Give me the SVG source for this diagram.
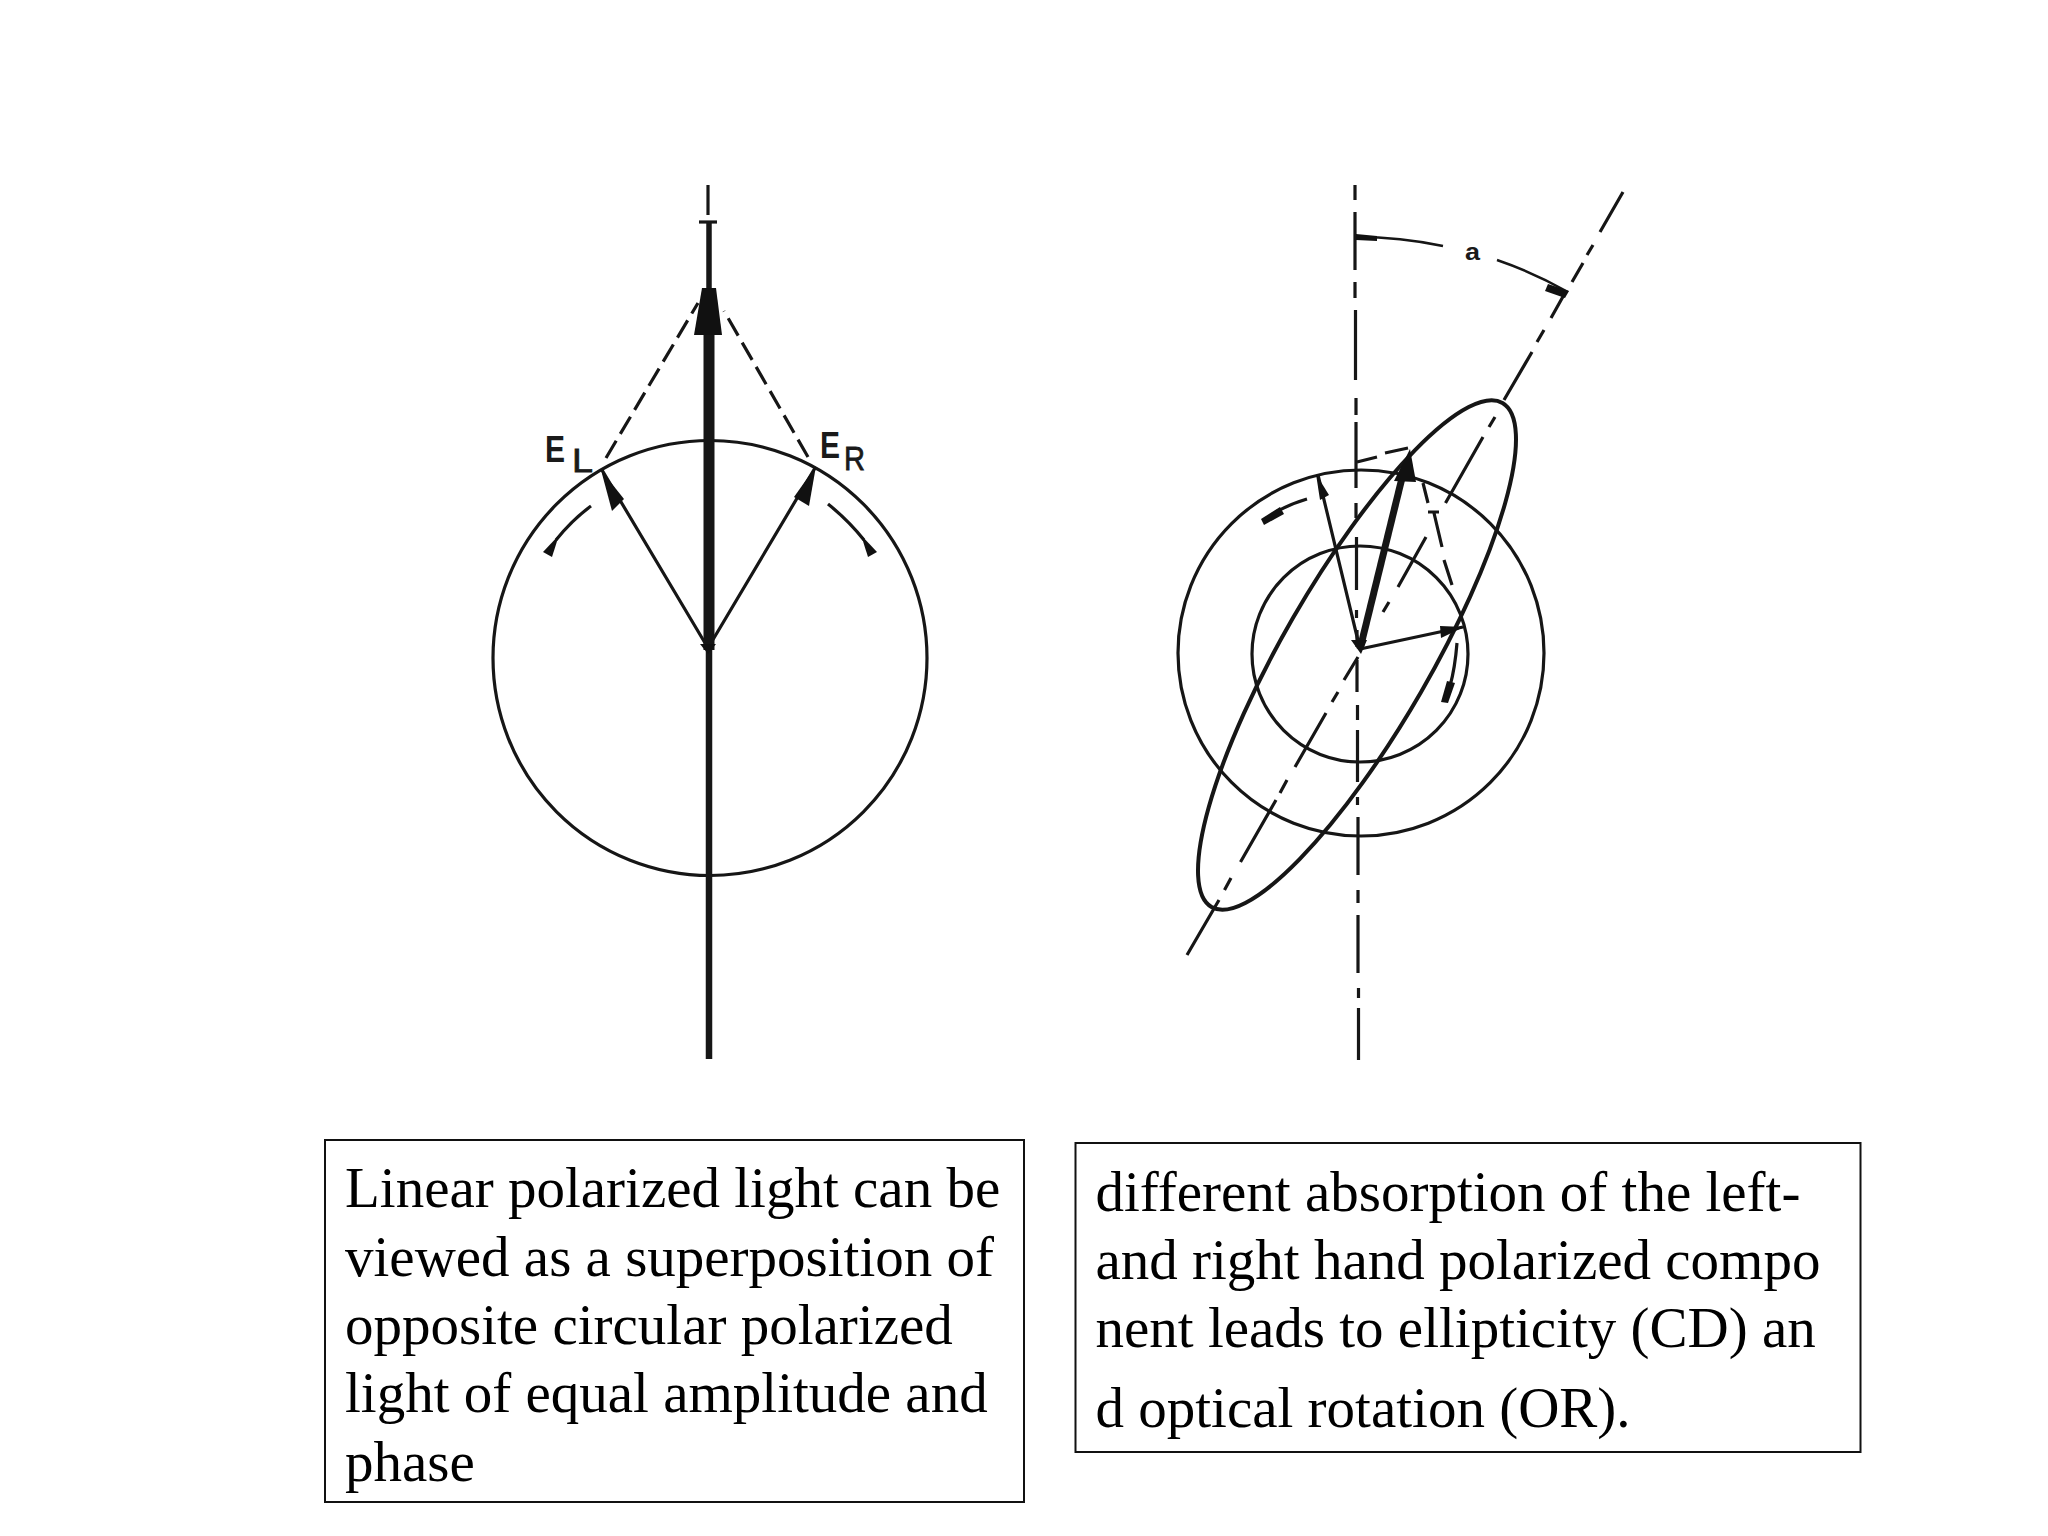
<svg xmlns="http://www.w3.org/2000/svg" width="2048" height="1536" viewBox="0 0 2048 1536">
<style>
.l{fill:none;stroke:#161616;stroke-linecap:butt}
.t2{stroke-width:2.500}.t3{stroke-width:3.200}.tk{stroke-width:6.500}
.h{fill:#111;stroke:none}
.lab{font-family:"Liberation Sans",Arial,sans-serif;fill:#1a1a1a}
.sub{stroke:#1a1a1a;stroke-width:.8}
.cap{font-family:"Liberation Serif","Times New Roman",serif;font-size:57px;fill:#000}
.box{fill:#fff;stroke:#111;stroke-width:2}
</style>
<rect width="2048" height="1536" fill="#fff"/>
<g id="left-figure">
<ellipse class="l t3" cx="710" cy="658" rx="217" ry="217.500"/>
<path class="l t3" d="M708 648L602 470M708 648L815 468"/>
<path class="l t3" stroke-dasharray="20 8" d="M606 458L698 303M808 457L724 311"/>
<path class="l t3" d="M708 185V215"/>
<path class="l t3" d="M699 222H717"/>
<path class="l" stroke-width="5.500" d="M709 223V290"/>
<path class="l" stroke-width="11" d="M709 330V650"/>
<path class="l" stroke-width="6.500" d="M709 650V1059"/>
<polygon class="h" points="702,288 716,288 722,335 694,335"/>
<polygon class="h" points="601,470 624,499 612,511"/>
<polygon class="h" points="816,466 809,506 794,497"/>
<polygon class="h" points="708,654 700,644 716,644"/>
<path class="l t3" d="M591 506Q572 520 556 540M828 504Q848 520 864 540"/>
<polygon class="h" points="559,535 552,557 543,552"/>
<polygon class="h" points="861,535 868,557 877,552"/>
<text class="lab" x="545" y="462" font-size="37" font-weight="700" textLength="20" lengthAdjust="spacingAndGlyphs">E</text>
<text class="lab sub" x="572" y="472" font-size="34" textLength="21" lengthAdjust="spacingAndGlyphs">L</text>
<text class="lab" x="820" y="458" font-size="36" font-weight="700" textLength="20" lengthAdjust="spacingAndGlyphs">E</text>
<text class="lab sub" x="844" y="470" font-size="34" textLength="21" lengthAdjust="spacingAndGlyphs">R</text>
</g>
<g id="right-figure">
<ellipse class="l t3" cx="1361" cy="653" rx="183" ry="183"/>
<ellipse class="l t3" cx="1360" cy="654" rx="108" ry="108"/>
<ellipse class="l" stroke-width="4" cx="1357" cy="655" rx="291" ry="74" transform="rotate(-60 1357 655)"/>
<path class="l t3" d="M1355 185V200M1355 212V270M1355 282V298M1355.500 310V380M1356 398V415M1356 422V488M1356 503V518M1356.500 537V590M1356.500 610V618M1357 630V647M1357 660V692M1357.500 705V720M1357.500 730V782M1357.500 797V805M1358 817V875M1358 890V903M1358 915V973M1358.500 988V998M1358.500 1008V1060"/>
<path class="l t3" d="M1623 192L1600 232M1593 245L1587 255M1583 263L1572 282M1565 293L1551 318M1544 330L1537 342M1532 352L1504 400M1495 417L1489 427M1483 437L1445.500 503M1426 537L1398 587M1389 602L1383 612M1358 657L1344 680M1338 692L1332 702M1326 713L1295 767M1287 780L1280 793M1276 800L1240.500 862M1231 878L1224.500 890M1219 900L1187 955"/>
<path class="l t2" d="M1356 237A421 421 0 0 1 1443 246M1497 260A421 421 0 0 1 1568 292"/>
<polygon class="h" points="1356,234 1377,236 1377,241 1356,240"/>
<polygon class="h" points="1569,291 1548,284 1545,291 1565,298"/>
<text class="lab" x="1465" y="260" font-size="24" font-weight="700" textLength="15" lengthAdjust="spacingAndGlyphs">a</text>
<path class="l t3" d="M1360 649L1318 475M1360 649L1463 627"/>
<path class="l" stroke-width="7" d="M1360 649L1402 478"/>
<polygon class="h" points="1410,449 1416,482 1394,481"/>
<polygon class="h" points="1316,474 1329,495 1320,500"/>
<polygon class="h" points="1464,627 1441,638 1440,626"/>
<polygon class="h" points="1351,640 1367,640 1361,654"/>
<path class="l t3" d="M1357 462L1377 457M1385 453L1408 448M1423 483L1428 503M1434 513L1442 547M1444 560L1452 585M1428 512H1439"/>
<path class="l t3" d="M1307 499Q1290 504 1276 512M1457 643Q1455 668 1450 686"/>
<polygon class="h" points="1280,507 1284,514 1264,525 1261,519"/>
<polygon class="h" points="1447,681 1455,683 1448,703 1441,702"/>
</g>
<g id="caption-left">
<rect class="box" x="325" y="1140" width="699" height="362"/>
<text class="cap" x="345" y="1207">Linear polarized light can be</text>
<text class="cap" x="345" y="1276">viewed as a superposition of</text>
<text class="cap" x="345" y="1344">opposite circular polarized</text>
<text class="cap" x="345" y="1412">light of equal amplitude and</text>
<text class="cap" x="345" y="1481">phase</text>
</g>
<g id="caption-right">
<rect class="box" x="1075.500" y="1143" width="785" height="309"/>
<text class="cap" x="1095.500" y="1211">different absorption of the left-</text>
<text class="cap" x="1095.500" y="1279">and right hand polarized compo</text>
<text class="cap" x="1095.500" y="1347">nent leads to ellipticity (CD) an</text>
<text class="cap" x="1095.500" y="1427">d optical rotation (OR).</text>
</g>
</svg>
